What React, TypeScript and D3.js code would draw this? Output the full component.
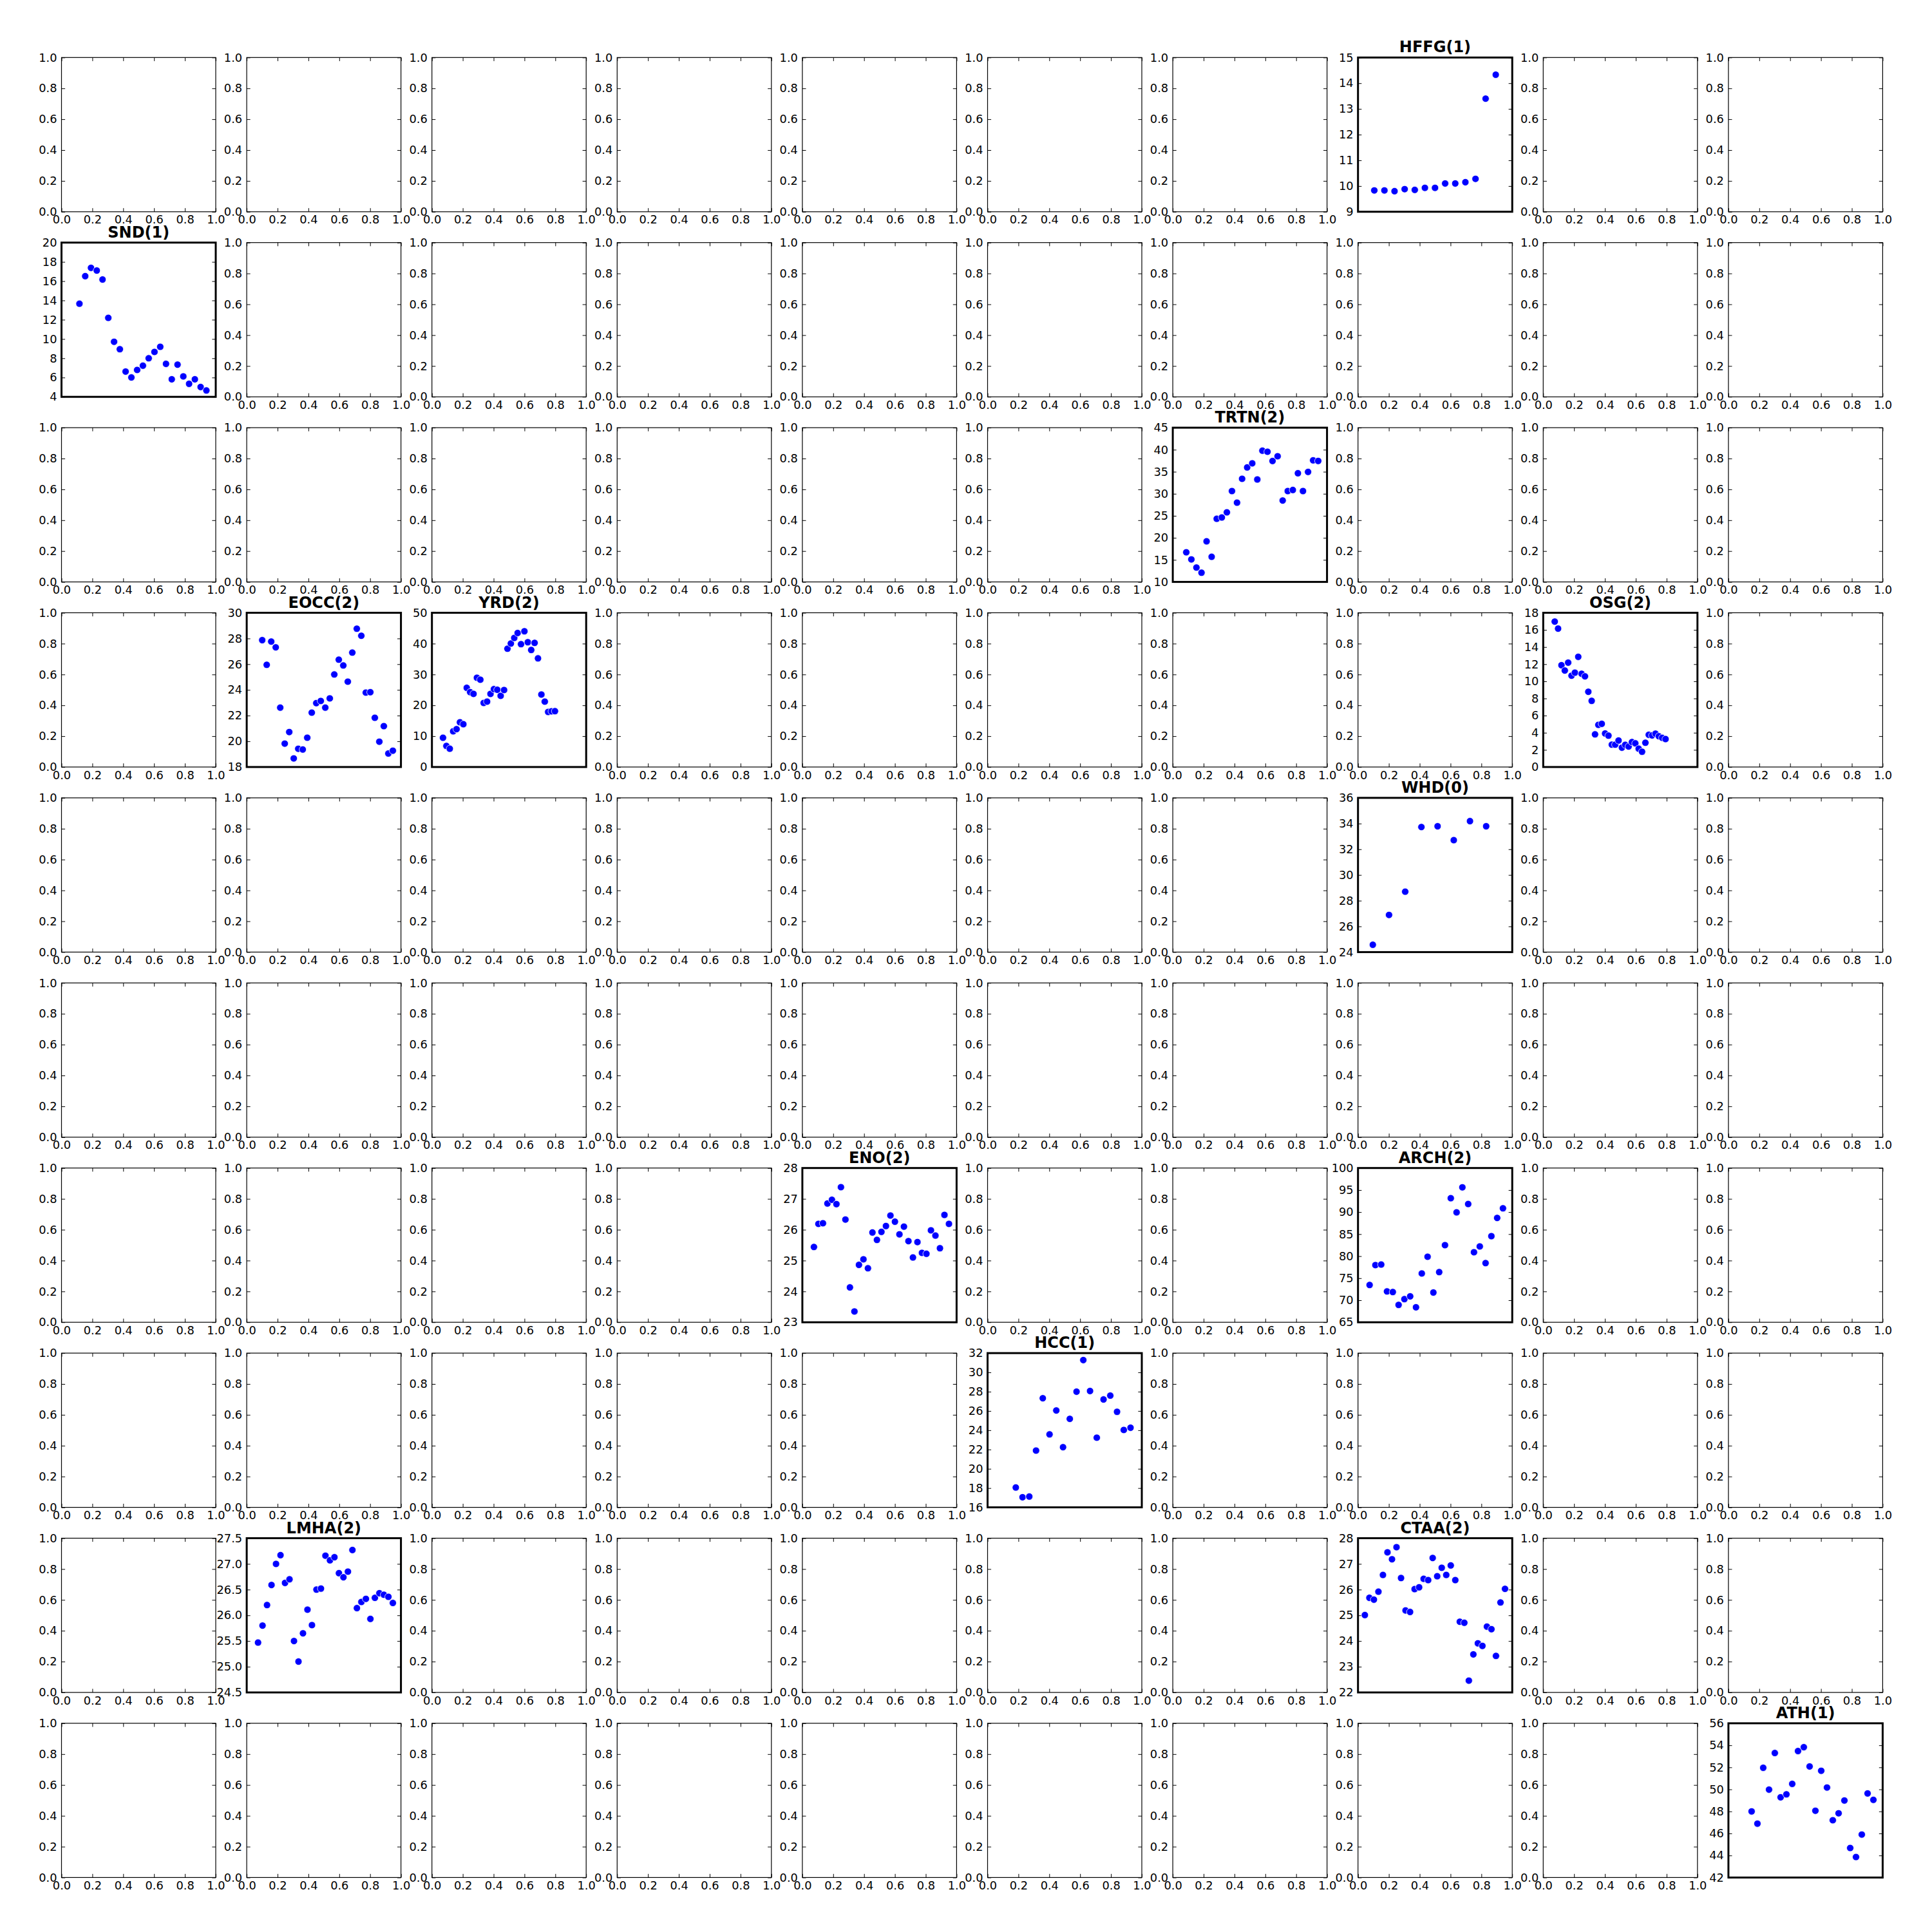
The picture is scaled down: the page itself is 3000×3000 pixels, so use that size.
import * as d3 from "d3";
import { useEffect, useRef } from "react";

// values, one array per panel (x = point index)
const hffgValues = [9.83, 9.83, 9.8, 9.88, 9.85, 9.93, 9.93, 10.1, 10.1, 10.15, 10.28, 13.4, 14.33];
const sndValues = [13.66, 16.52, 17.38, 17.1, 16.17, 12.19, 9.71, 8.94, 6.62, 6.01, 6.79, 7.23, 8.0, 8.66, 9.19, 7.42, 5.82, 7.34, 6.12, 5.35, 5.82, 5.02, 4.66];
const trtnValues = [16.72, 15.11, 13.26, 12.09, 19.21, 15.7, 24.33, 24.62, 25.79, 30.62, 27.99, 33.4, 35.98, 36.91, 33.25, 39.78, 39.54, 37.44, 38.52, 28.47, 30.62, 30.86, 34.66, 30.62, 34.96, 37.59, 37.45];
const eoccValues = [27.87, 25.95, 27.76, 27.31, 22.62, 19.82, 20.72, 18.67, 19.42, 19.36, 20.28, 22.23, 22.97, 23.14, 22.62, 23.34, 25.2, 26.35, 25.9, 24.64, 26.9, 28.76, 28.21, 23.79, 23.82, 21.83, 19.97, 21.18, 19.05, 19.27];
const yrdValues = [9.48, 6.83, 5.93, 11.58, 12.27, 14.5, 13.88, 25.66, 24.27, 23.71, 28.94, 28.31, 20.77, 21.2, 23.71, 25.24, 25.03, 23.08, 24.96, 38.35, 40.03, 41.84, 43.44, 39.82, 44.0, 40.45, 37.94, 40.24, 35.22, 23.5, 21.2, 17.85, 18.06, 18.1];
const osgValues = [16.97, 16.15, 11.88, 11.26, 12.18, 10.66, 11.01, 12.86, 10.88, 10.58, 8.78, 7.72, 3.81, 4.92, 5.04, 3.91, 3.66, 2.61, 2.61, 3.09, 2.26, 2.59, 2.39, 2.91, 2.76, 2.14, 1.78, 2.83, 3.76, 3.69, 3.89, 3.59, 3.41, 3.26];
const whdValues = [24.57, 26.89, 28.7, 33.73, 33.79, 32.71, 34.19, 33.79];
const enoValues = [25.44, 26.19, 26.21, 26.85, 26.97, 26.83, 27.38, 26.33, 24.13, 23.35, 24.86, 25.04, 24.75, 25.91, 25.67, 25.93, 26.12, 26.46, 26.26, 25.85, 26.1, 25.63, 25.1, 25.6, 25.25, 25.22, 25.98, 25.81, 25.4, 26.48, 26.19];
const archValues = [73.46, 77.98, 78.1, 72.0, 71.86, 68.94, 70.25, 70.88, 68.4, 76.08, 79.87, 71.75, 76.38, 82.5, 93.15, 89.94, 95.62, 91.83, 80.89, 82.21, 78.42, 84.54, 88.67, 90.86];
const hccValues = [18.06, 17.05, 17.12, 21.89, 27.32, 23.57, 26.05, 22.24, 25.18, 28.0, 31.28, 28.07, 23.23, 27.19, 27.59, 25.91, 24.03, 24.26];
const lmhaValues = [25.47, 25.8, 26.2, 26.59, 27.0, 27.17, 26.63, 26.7, 25.5, 25.1, 25.65, 26.11, 25.81, 26.5, 26.52, 27.16, 27.07, 27.13, 26.82, 26.74, 26.85, 27.27, 26.14, 26.26, 26.32, 25.93, 26.34, 26.43, 26.4, 26.36, 26.24];
const ctaaValues = [25.01, 25.68, 25.61, 25.92, 26.57, 27.45, 27.18, 27.65, 26.45, 25.19, 25.13, 26.02, 26.09, 26.42, 26.37, 27.23, 26.52, 26.85, 26.57, 26.94, 26.37, 24.75, 24.71, 22.46, 23.48, 23.91, 23.81, 24.56, 24.46, 23.42, 25.5, 26.03];
const athValues = [48.0, 46.89, 51.96, 49.98, 53.3, 49.28, 49.55, 50.5, 53.48, 53.83, 52.08, 48.06, 51.69, 50.17, 47.2, 47.83, 48.99, 44.68, 43.86, 45.9, 49.63, 49.05];

// y tick labels
const hffgTicks = [9, 10, 11, 12, 13, 14, 15];
const sndTicks = [4, 6, 8, 10, 12, 14, 16, 18, 20];
const trtnTicks = [10, 15, 20, 25, 30, 35, 40, 45];
const eoccTicks = [18, 20, 22, 24, 26, 28, 30];
const yrdTicks = [0, 10, 20, 30, 40, 50];
const osgTicks = [0, 2, 4, 6, 8, 10, 12, 14, 16, 18];
const whdTicks = [24, 26, 28, 30, 32, 34, 36];
const enoTicks = [23, 24, 25, 26, 27, 28];
const archTicks = [65, 70, 75, 80, 85, 90, 95, 100];
const hccTicks = [16, 18, 20, 22, 24, 26, 28, 30, 32];
const lmhaTicks = [24.5, 25.0, 25.5, 26.0, 26.5, 27.0, 27.5];
const ctaaTicks = [22, 23, 24, 25, 26, 27, 28];
const athTicks = [42, 44, 46, 48, 50, 52, 54, 56];
const emptyTicks = [0, 0.2, 0.4, 0.6, 0.8, 1.0];

type Panel = {
    title: string;
    row: number;
    col: number;
    values: number[];
    ticks: number[];
    xDomain: [number, number];
    fmt: string;
};

const panels: Panel[] = [
    { title: "HFFG(1)", row: 0, col: 7, values: hffgValues, ticks: hffgTicks, xDomain: [-1.61, 13.63], fmt: "d" },
    { title: "SND(1)", row: 1, col: 0, values: sndValues, ticks: sndTicks, xDomain: [-3.11, 23.62], fmt: "d" },
    { title: "TRTN(2)", row: 2, col: 6, values: trtnValues, ticks: trtnTicks, xDomain: [-2.66, 27.74], fmt: "d" },
    { title: "EOCC(2)", row: 3, col: 1, values: eoccValues, ticks: eoccTicks, xDomain: [-3.44, 30.8], fmt: "d" },
    { title: "YRD(2)", row: 3, col: 2, values: yrdValues, ticks: yrdTicks, xDomain: [-3.26, 42.2], fmt: "d" },
    { title: "OSG(2)", row: 3, col: 8, values: osgValues, ticks: osgTicks, xDomain: [-3.43, 42.5], fmt: "d" },
    { title: "WHD(0)", row: 4, col: 7, values: whdValues, ticks: whdTicks, xDomain: [-0.915, 8.61], fmt: "d" },
    { title: "ENO(2)", row: 6, col: 4, values: enoValues, ticks: enoTicks, xDomain: [-2.57, 31.7], fmt: "d" },
    { title: "ARCH(2)", row: 6, col: 7, values: archValues, ticks: archTicks, xDomain: [-2.0, 24.6], fmt: "d" },
    { title: "HCC(1)", row: 7, col: 5, values: hccValues, ticks: hccTicks, xDomain: [-4.18, 18.67], fmt: "d" },
    { title: "LMHA(2)", row: 8, col: 1, values: lmhaValues, ticks: lmhaTicks, xDomain: [-2.52, 31.8], fmt: ".1f" },
    { title: "CTAA(2)", row: 8, col: 7, values: ctaaValues, ticks: ctaaTicks, xDomain: [-1.52, 32.6], fmt: "d" },
    { title: "ATH(1)", row: 9, col: 9, values: athValues, ticks: athTicks, xDomain: [-4.0, 22.6], fmt: "d" },
];

const SIZE = 3000;
const GRID = 10;
const LEFT = 95.5;
const TOP = 89.3;
const PITCH_X = 287.6;
const PITCH_Y = 287.4;
const AX = 239.5;
const TICK_LEN = 5.6;
const FONT = "'DejaVu Sans', sans-serif";
const TICK_FS = 17.8;
const TITLE_FS = 24;

function styleAxis(g: d3.Selection<SVGGElement, unknown, null, undefined>) {
    g.attr("font-family", FONT).attr("font-size", TICK_FS).attr("color", "#000");
    g.select(".domain").remove();
    g.selectAll("line").attr("stroke-width", 1);
}

function drawEmpty(g: d3.Selection<SVGGElement, unknown, null, undefined>) {
    const x = d3.scaleLinear().domain([0, 1]).range([0, AX]);
    const y = d3.scaleLinear().domain([0, 1]).range([AX, 0]);
    const fmt = d3.format(".1f");

    g.append("rect").attr("width", AX).attr("height", AX).attr("fill", "#fff");

    g.append("g")
        .call(d3.axisLeft(y).tickValues(emptyTicks).tickFormat((d) => fmt(d as number)).tickSize(-TICK_LEN).tickPadding(7))
        .call(styleAxis);
    g.append("g")
        .attr("transform", `translate(${AX},0)`)
        .call(d3.axisRight(y).tickValues(emptyTicks).tickFormat(() => "").tickSize(-TICK_LEN))
        .call(styleAxis);
    g.append("g")
        .attr("transform", `translate(0,${AX})`)
        .call(d3.axisBottom(x).tickValues(emptyTicks).tickFormat((d) => fmt(d as number)).tickSize(-TICK_LEN).tickPadding(6))
        .call(styleAxis);
    g.append("g")
        .call(d3.axisTop(x).tickValues(emptyTicks).tickFormat(() => "").tickSize(-TICK_LEN))
        .call(styleAxis);

    g.append("rect")
        .attr("width", AX)
        .attr("height", AX)
        .attr("fill", "none")
        .attr("stroke", "#000")
        .attr("stroke-width", 1.2);
}

function drawPanel(g: d3.Selection<SVGGElement, unknown, null, undefined>, p: Panel) {
    const x = d3.scaleLinear().domain(p.xDomain).range([0, AX]);
    const y = d3
        .scaleLinear()
        .domain([p.ticks[0], p.ticks[p.ticks.length - 1]])
        .range([AX, 0]);
    const fmt = d3.format(p.fmt);

    g.append("rect").attr("width", AX).attr("height", AX).attr("fill", "#fff");

    g.append("g")
        .call(d3.axisLeft(y).tickValues(p.ticks).tickFormat((d) => fmt(d as number)).tickSize(-TICK_LEN).tickPadding(7))
        .call(styleAxis);
    g.append("g")
        .attr("transform", `translate(${AX},0)`)
        .call(d3.axisRight(y).tickValues(p.ticks).tickFormat(() => "").tickSize(-TICK_LEN))
        .call(styleAxis);

    g.selectAll(".pt")
        .data(p.values)
        .join("circle")
        .attr("cx", (_, i) => x(i))
        .attr("cy", (d) => y(d))
        .attr("r", 5.5)
        .attr("fill", "#0000ff")
        .attr("stroke", "#fff")
        .attr("stroke-width", 0.8);

    g.append("rect")
        .attr("width", AX)
        .attr("height", AX)
        .attr("fill", "none")
        .attr("stroke", "#000")
        .attr("stroke-width", 3);

    // Title
    g.append("text")
        .attr("x", AX / 2)
        .attr("y", -8)
        .attr("text-anchor", "middle")
        .attr("font-family", FONT)
        .attr("font-size", TITLE_FS)
        .attr("font-weight", "bold")
        .attr("fill", "#000")
        .text(p.title);
}

function drawGrid(svgElement: SVGSVGElement) {
    const svg = d3.select(svgElement);
    svg.selectAll("*").remove();

    svg.append("rect").attr("width", SIZE).attr("height", SIZE).attr("fill", "#fff");

    const lookup = new Map(panels.map((p) => [`${p.row}-${p.col}`, p]));

    for (let r = 0; r < GRID; r++) {
        for (let c = 0; c < GRID; c++) {
            const g = svg
                .append("g")
                .attr("transform", `translate(${LEFT + c * PITCH_X},${TOP + r * PITCH_Y})`);
            const p = lookup.get(`${r}-${c}`);
            if (p) drawPanel(g, p);
            else drawEmpty(g);
        }
    }
}

export default function App() {
    const chartRef = useRef<SVGSVGElement | null>(null);

    useEffect(() => {
        if (chartRef.current) drawGrid(chartRef.current);
    }, []);

    return (
        <div style={{ position: "absolute", left: 0, top: 0 }}>
            <svg ref={chartRef} width={SIZE} height={SIZE} style={{ display: "block" }}></svg>
        </div>
    );
}
